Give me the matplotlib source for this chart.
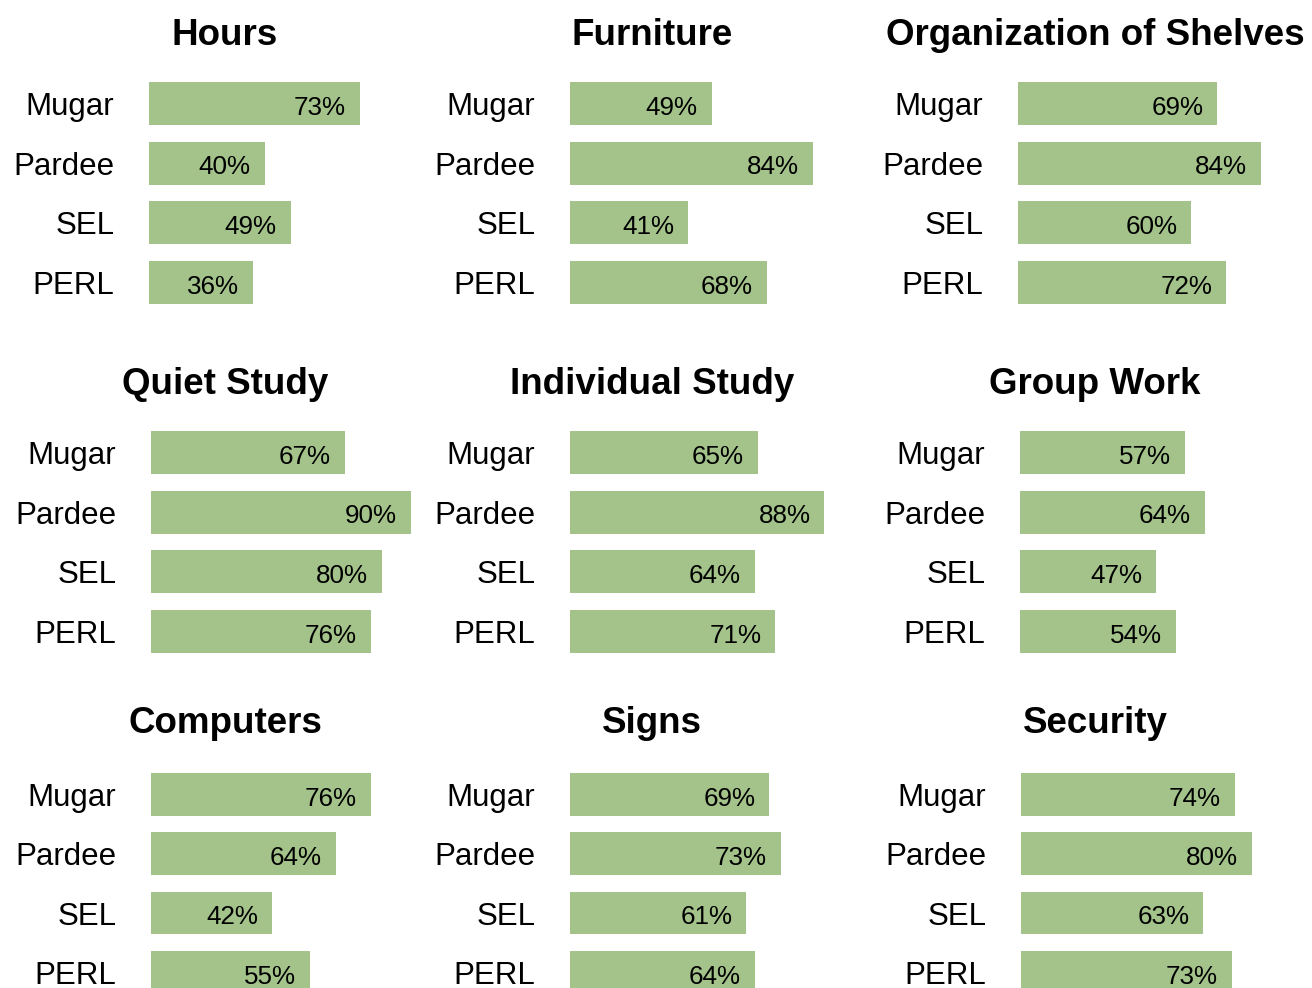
import matplotlib.pyplot as plt

plt.rcParams['font.family'] = ['Liberation Sans', 'DejaVu Sans']

# Survey data: share of respondents satisfied, by library
libraries = ["Mugar", "Pardee", "SEL", "PERL"]
titles = ["Hours", "Furniture", "Organization of Shelves",
          "Quiet Study", "Individual Study", "Group Work",
          "Computers", "Signs", "Security"]
hours = [73, 40, 49, 36]
furniture = [49, 84, 41, 68]
shelves = [69, 84, 60, 72]
quiet_study = [67, 90, 80, 76]
individual_study = [65, 88, 64, 71]
group_work = [57, 64, 47, 54]
computers = [76, 64, 42, 55]
signs = [69, 73, 61, 64]
security = [74, 80, 63, 73]
panels = [hours, furniture, shelves, quiet_study, individual_study,
          group_work, computers, signs, security]

BAR = "#a3c38a"
W, H = 1312, 988
fig = plt.figure(figsize=(W / 100, H / 100), dpi=100)

# layout in pixels
bar_left = [[149, 570, 1018], [151, 570, 1020], [151, 570, 1021]]
first_center = [103.5, 452.5, 794.5]
steps = [59.7, 59.7, 59.3]   # px between bars
title_x = [225, 652, 1095]
title_base = [45, 394, 733]
px_per_pct = 2.89

for k, (title, vals) in enumerate(zip(titles, panels)):
    r, c = divmod(k, 3)
    step = steps[r]
    top = first_center[r] - 0.5 * step
    ax = fig.add_axes([bar_left[r][c] / W, 1 - (top + 4 * step) / H,
                       100 * px_per_pct / W, 4 * step / H])
    ypos = list(range(len(libraries)))
    ax.barh(ypos, vals, height=0.72, color=BAR)
    ax.set_xlim(0, 100)
    ax.set_ylim(3.5, -0.5)
    ax.set_yticks(ypos)
    ax.set_yticklabels(libraries, fontsize=22.5)
    ax.tick_params(axis='y', length=0, pad=25)
    ax.set_xticks([])
    for s in ax.spines.values():
        s.set_visible(False)
    ax.patch.set_visible(False)
    for y, v in zip(ypos, vals):
        ax.annotate(f"{v}%", (v, y), xytext=(-10, -8), textcoords="offset points",
                    ha="right", va="baseline", fontsize=18.7)
    fig.text(title_x[c] / W, 1 - title_base[r] / H, title, ha="center",
             va="baseline", fontsize=26.5, fontweight="bold")

fig.savefig("out.png", dpi=100)
